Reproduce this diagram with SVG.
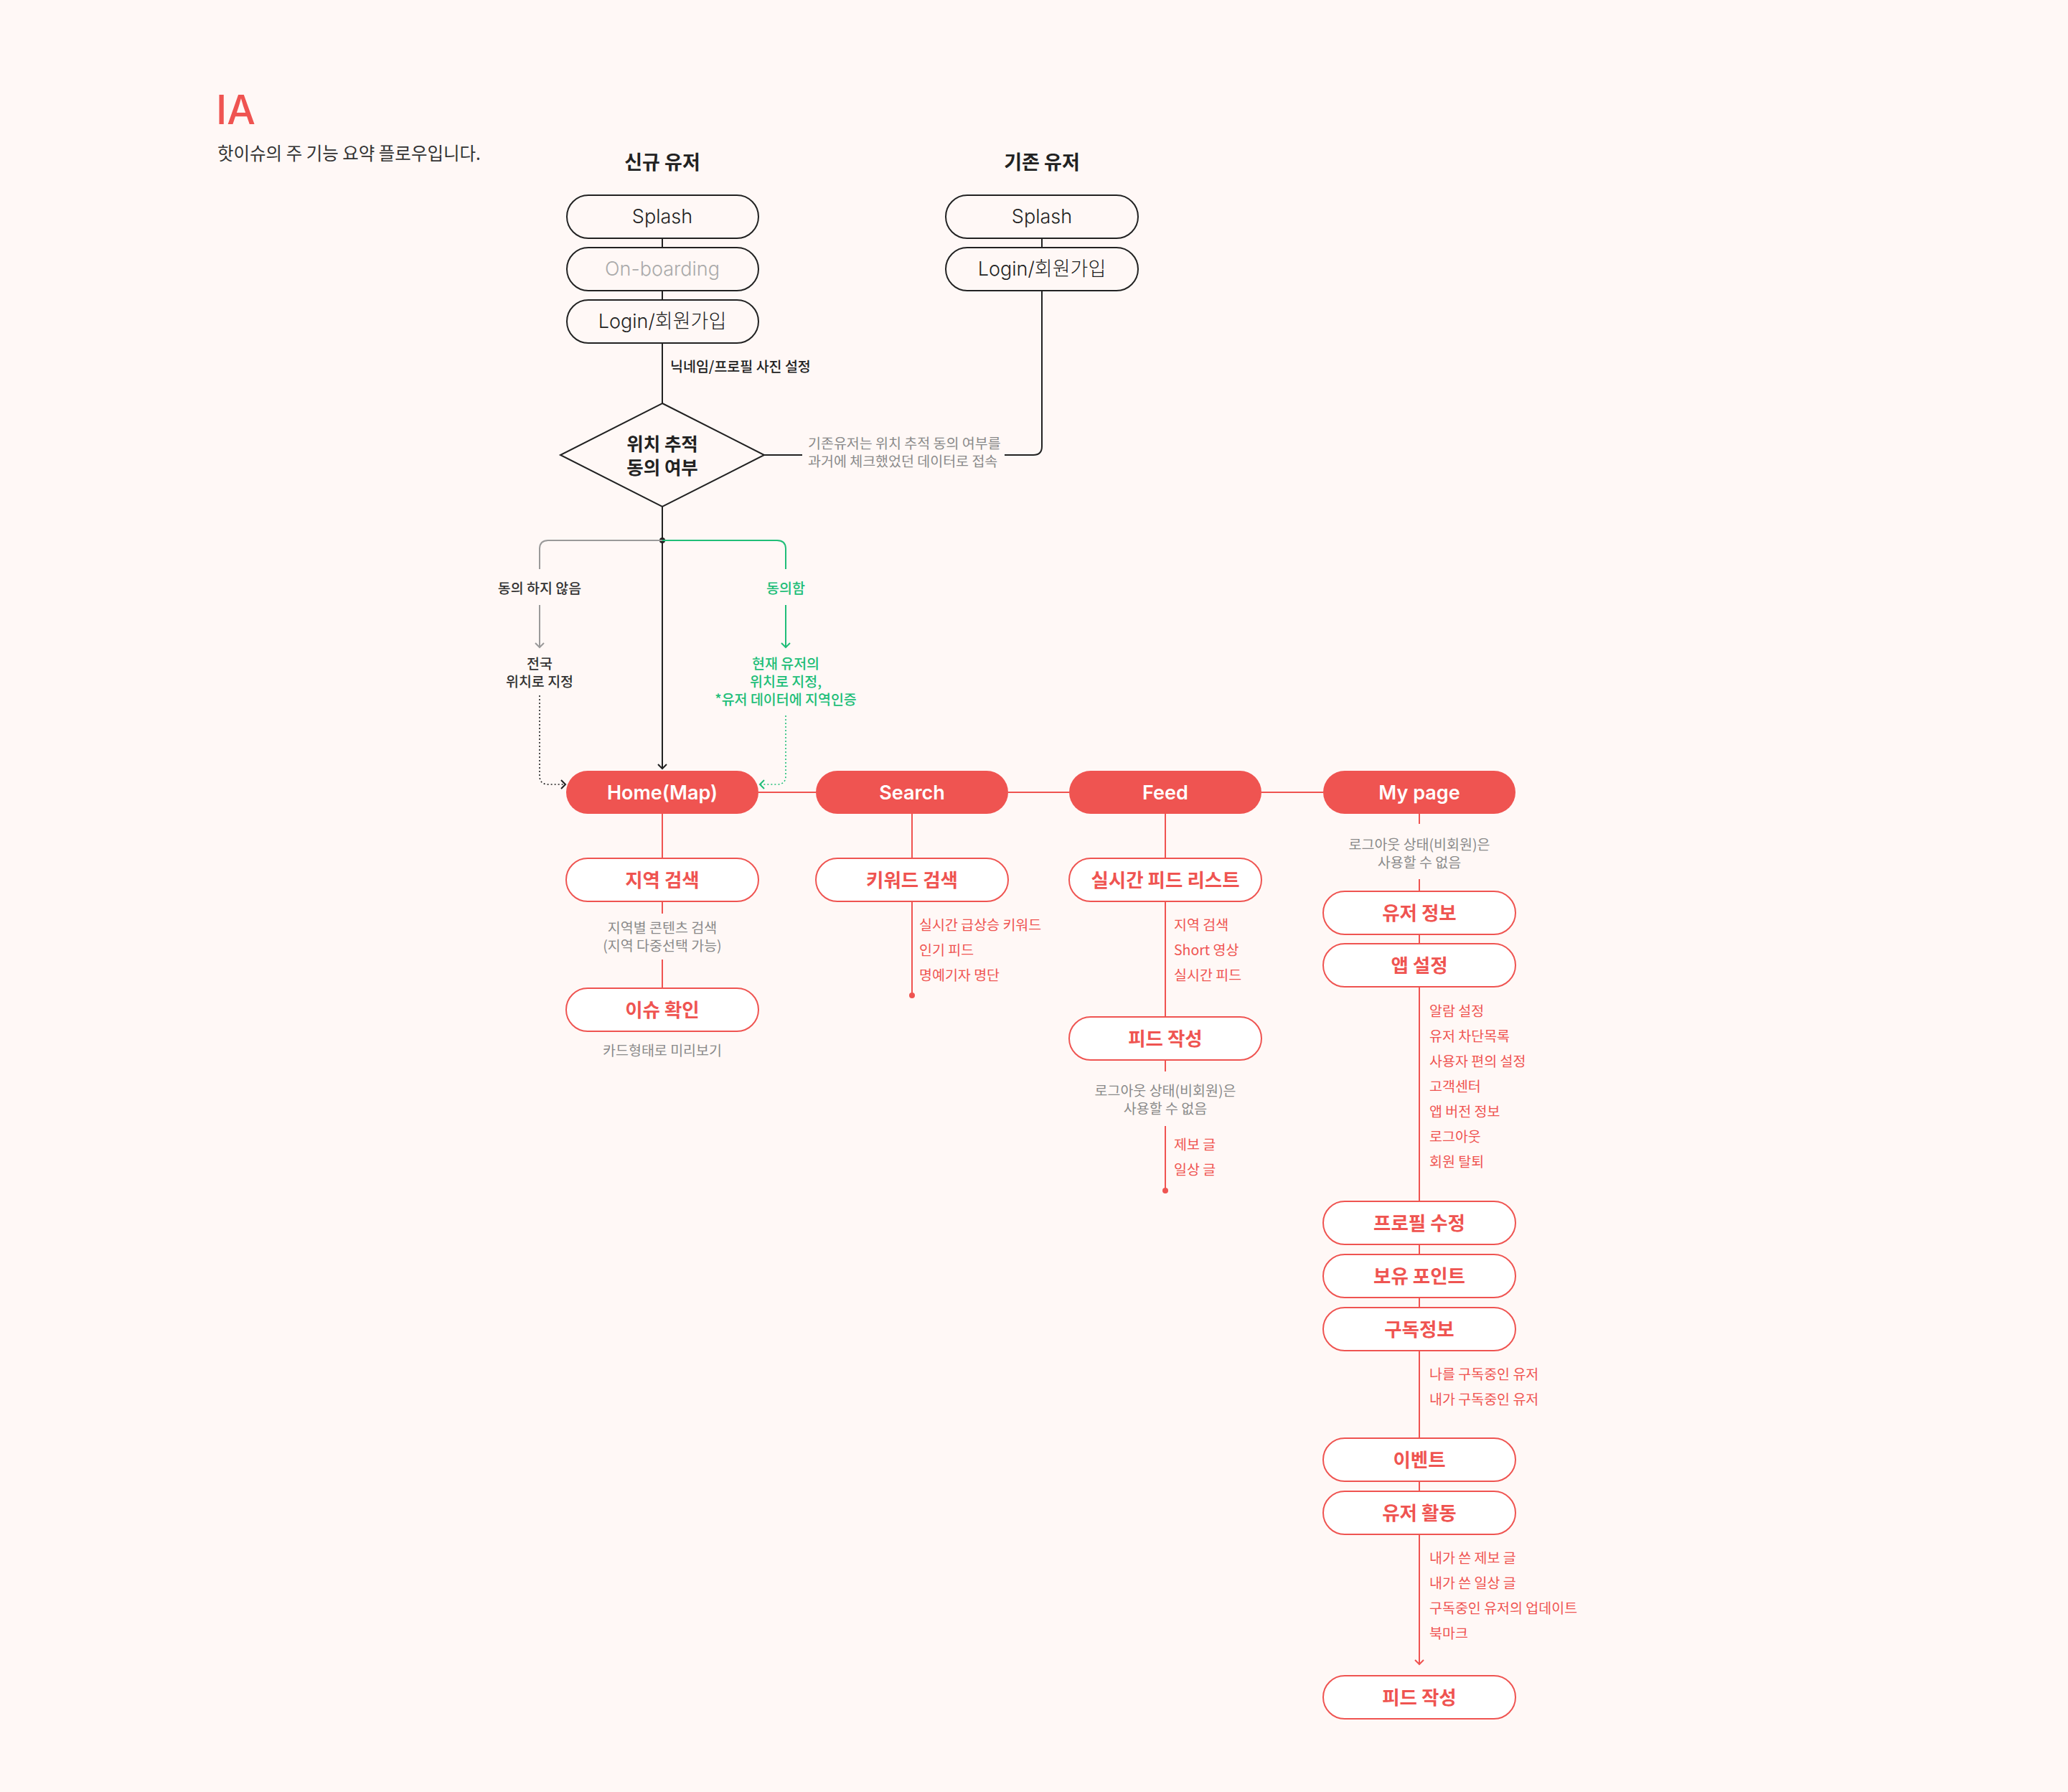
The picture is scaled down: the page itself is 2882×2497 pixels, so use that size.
<svg xmlns="http://www.w3.org/2000/svg" width="2882" height="2497" viewBox="0 0 2882 2497">
<style>
.ko{font-family:"Noto Sans CJK KR","Noto Sans",sans-serif}
.en{font-family:Inter,"Noto Sans CJK KR",sans-serif}
.mid{text-anchor:middle}
.dbox rect{fill:none;stroke:#222;stroke-width:2}
.dbox text{font-size:27px;font-weight:300;fill:#222}
.rbox rect{fill:#EF5451}
.rbox text{font-size:27px;font-weight:600;fill:#fff}
.sbox rect{fill:#fff;stroke:#EF5451;stroke-width:2}
.sbox text{font-size:26.5px;font-weight:700;fill:#EF5451}
.bk{stroke:#222;stroke-width:2;fill:none}
.rl{stroke:#EF5451;stroke-width:2;fill:none}
.gl{stroke:#9a9a9a;stroke-width:2;fill:none}
.gn{stroke:#20BE78;stroke-width:2;fill:none}
.dot{stroke-dasharray:2 3;stroke-width:1.6}
.note{font-size:19.5px;fill:#8a8a8a}
.list{font-size:19.5px;fill:#EF5451}
.lbl{font-size:19.5px;font-weight:500;fill:#222}
.glbl{font-size:19.5px;font-weight:500;fill:#20BE78}
.hd{font-size:27px;font-weight:700;fill:#222}
</style>
<rect x="0" y="0" width="2882" height="2497" fill="#FFF8F6"/>

<g id="title">
<text class="en" x="301" y="173" font-size="56" font-weight="500" fill="#EF5451">IA</text>
<text class="ko" x="303" y="223" font-size="24.5" fill="#333">핫이슈의 주 기능 요약 플로우입니다.</text>
</g>
<g id="header-new"><text class="ko mid hd" x="923" y="236">신규 유저</text></g>
<g id="header-existing"><text class="ko mid hd" x="1452" y="236">기존 유저</text></g>

<g id="connectors">
<path class="bk" d="M923 332V345M923 405V418M923 478V562M1452 332V345"/>
<path class="bk" d="M1452 405V622Q1452 634 1440 634H1400M1118 634H1065"/>
<path class="bk" d="M923 706V1071M917 1065L923 1071L929 1065"/>
<circle cx="923" cy="753" r="4" fill="#222"/>
<path class="gl" d="M923 753H764Q752 753 752 765V793M752 843V902M746 896L752 902L758 896"/>
<path class="bk dot" d="M752 969V1081Q752 1093 764 1093H788"/>
<path class="bk" stroke-width="1.6" d="M782 1087L788 1093L782 1099"/>
<path class="gn" d="M923 753H1083Q1095 753 1095 765V793M1095 843V902M1089 896L1095 902L1101 896"/>
<path class="gn dot" d="M1095 997V1081Q1095 1093 1083 1093H1059"/>
<path class="gn" stroke-width="1.6" d="M1065 1087L1059 1093L1065 1099"/>
<path class="rl" d="M1057 1104H1137M1405 1104H1490M1758 1104H1844"/>
<path class="rl" d="M923 1134V1196M923 1256V1273M923 1337V1377"/>
<path class="rl" d="M1271 1134V1196M1271 1256V1387"/>
<circle cx="1271" cy="1387" r="4" fill="#EF5451"/>
<path class="rl" d="M1624 1134V1196M1624 1256V1417M1624 1477V1493M1624 1569V1659"/>
<circle cx="1624" cy="1659" r="4" fill="#EF5451"/>
<path class="rl" d="M1978 1134V1148M1978 1225V1242M1978 1302V1315M1978 1375V1674M1978 1734V1748M1978 1808V1822M1978 1882V2004M1978 2064V2078M1978 2138V2319M1972 2313L1978 2319L1984 2313"/>
</g>

<g id="new-splash" class="dbox"><rect x="790" y="272" width="267" height="60" rx="30"/><text class="en mid" x="923" y="311">Splash</text></g>
<g id="new-onboarding" class="dbox"><rect x="790" y="345" width="267" height="60" rx="30"/><text class="en mid" x="923" y="384" style="fill:#aaa">On-boarding</text></g>
<g id="new-login" class="dbox"><rect x="790" y="418" width="267" height="60" rx="30"/><text class="en mid" x="923" y="457">Login/회원가입</text></g>
<g id="ex-splash" class="dbox"><rect x="1318" y="272" width="268" height="60" rx="30"/><text class="en mid" x="1452" y="311">Splash</text></g>
<g id="ex-login" class="dbox"><rect x="1318" y="345" width="268" height="60" rx="30"/><text class="en mid" x="1452" y="384">Login/회원가입</text></g>

<g id="label-nickname"><text class="ko lbl" x="934" y="518">닉네임/프로필 사진 설정</text></g>

<g id="decision">
<polygon points="923,562 1065,634 923,706 781,634" fill="none" stroke="#222" stroke-width="2"/>
<text class="ko mid" x="923" y="628" font-size="25.5" font-weight="700" fill="#222"><tspan x="923" y="628">위치 추적</tspan><tspan x="923" y="661">동의 여부</tspan></text>
</g>
<g id="note-existing">
<text class="ko note" x="1126" y="625"><tspan x="1126" y="625">기존유저는 위치 추적 동의 여부를</tspan><tspan x="1126" y="650">과거에 체크했었던 데이터로 접속</tspan></text>
</g>

<g id="branch-no">
<text class="ko mid lbl" x="752" y="827" style="fill:#333">동의 하지 않음</text>
<text class="ko mid lbl" x="752" y="932" style="fill:#333"><tspan x="752" y="932">전국</tspan><tspan x="752" y="957">위치로 지정</tspan></text>
</g>
<g id="branch-yes">
<text class="ko mid glbl" x="1095" y="827">동의함</text>
<text class="ko mid glbl" x="1095" y="932"><tspan x="1095" y="932">현재 유저의</tspan><tspan x="1095" y="957">위치로 지정,</tspan><tspan x="1095" y="982">*유저 데이터에 지역인증</tspan></text>
</g>

<g id="home" class="rbox"><rect x="789" y="1074" width="268" height="60" rx="30"/><text class="en mid" x="923" y="1114">Home(Map)</text></g>
<g id="search" class="rbox"><rect x="1137" y="1074" width="268" height="60" rx="30"/><text class="en mid" x="1271" y="1114">Search</text></g>
<g id="feed" class="rbox"><rect x="1490" y="1074" width="268" height="60" rx="30"/><text class="en mid" x="1624" y="1114">Feed</text></g>
<g id="mypage" class="rbox"><rect x="1844" y="1074" width="268" height="60" rx="30"/><text class="en mid" x="1978" y="1114">My page</text></g>

<g id="region-search" class="sbox"><rect x="789" y="1196" width="268" height="60" rx="30"/><text class="ko mid" x="923" y="1236">지역 검색</text></g>
<g id="note-region"><text class="ko mid note" x="923" y="1300"><tspan x="923" y="1300">지역별 콘텐츠 검색</tspan><tspan x="923" y="1325">(지역 다중선택 가능)</tspan></text></g>
<g id="issue-check" class="sbox"><rect x="789" y="1377" width="268" height="60" rx="30"/><text class="ko mid" x="923" y="1417">이슈 확인</text></g>
<g id="note-card"><text class="ko mid note" x="923" y="1471">카드형태로 미리보기</text></g>

<g id="keyword-search" class="sbox"><rect x="1137" y="1196" width="268" height="60" rx="30"/><text class="ko mid" x="1271" y="1236">키워드 검색</text></g>
<g id="list-keyword"><text class="ko list" x="1281" y="1296"><tspan x="1281" y="1296">실시간 급상승 키워드</tspan><tspan x="1281" y="1331">인기 피드</tspan><tspan x="1281" y="1366">명예기자 명단</tspan></text></g>

<g id="feed-list" class="sbox"><rect x="1490" y="1196" width="268" height="60" rx="30"/><text class="ko mid" x="1624" y="1236">실시간 피드 리스트</text></g>
<g id="list-feed"><text class="ko list" x="1636" y="1296"><tspan x="1636" y="1296">지역 검색</tspan><tspan x="1636" y="1331">Short 영상</tspan><tspan x="1636" y="1366">실시간 피드</tspan></text></g>
<g id="feed-write" class="sbox"><rect x="1490" y="1417" width="268" height="60" rx="30"/><text class="ko mid" x="1624" y="1457">피드 작성</text></g>
<g id="note-feed-write"><text class="ko mid note" x="1624" y="1527"><tspan x="1624" y="1527">로그아웃 상태(비회원)은</tspan><tspan x="1624" y="1552">사용할 수 없음</tspan></text></g>
<g id="list-write"><text class="ko list" x="1636" y="1602"><tspan x="1636" y="1602">제보 글</tspan><tspan x="1636" y="1637">일상 글</tspan></text></g>

<g id="note-mypage"><text class="ko mid note" x="1978" y="1184"><tspan x="1978" y="1184">로그아웃 상태(비회원)은</tspan><tspan x="1978" y="1209">사용할 수 없음</tspan></text></g>
<g id="user-info" class="sbox"><rect x="1844" y="1242" width="268" height="60" rx="30"/><text class="ko mid" x="1978" y="1282">유저 정보</text></g>
<g id="app-settings" class="sbox"><rect x="1844" y="1315" width="268" height="60" rx="30"/><text class="ko mid" x="1978" y="1355">앱 설정</text></g>
<g id="list-settings">
<text class="ko list" x="1992" y="1416"><tspan x="1992" y="1416">알람 설정</tspan><tspan x="1992" y="1451">유저 차단목록</tspan><tspan x="1992" y="1486">사용자 편의 설정</tspan><tspan x="1992" y="1521">고객센터</tspan><tspan x="1992" y="1556">앱 버전 정보</tspan><tspan x="1992" y="1591">로그아웃</tspan><tspan x="1992" y="1626">회원 탈퇴</tspan></text>
</g>
<g id="profile-edit" class="sbox"><rect x="1844" y="1674" width="268" height="60" rx="30"/><text class="ko mid" x="1978" y="1714">프로필 수정</text></g>
<g id="points" class="sbox"><rect x="1844" y="1748" width="268" height="60" rx="30"/><text class="ko mid" x="1978" y="1788">보유 포인트</text></g>
<g id="subscription" class="sbox"><rect x="1844" y="1822" width="268" height="60" rx="30"/><text class="ko mid" x="1978" y="1862">구독정보</text></g>
<g id="list-subscription"><text class="ko list" x="1992" y="1922"><tspan x="1992" y="1922">나를 구독중인 유저</tspan><tspan x="1992" y="1957">내가 구독중인 유저</tspan></text></g>
<g id="event" class="sbox"><rect x="1844" y="2004" width="268" height="60" rx="30"/><text class="ko mid" x="1978" y="2044">이벤트</text></g>
<g id="user-activity" class="sbox"><rect x="1844" y="2078" width="268" height="60" rx="30"/><text class="ko mid" x="1978" y="2118">유저 활동</text></g>
<g id="list-activity">
<text class="ko list" x="1992" y="2178"><tspan x="1992" y="2178">내가 쓴 제보 글</tspan><tspan x="1992" y="2213">내가 쓴 일상 글</tspan><tspan x="1992" y="2248">구독중인 유저의 업데이트</tspan><tspan x="1992" y="2283">북마크</tspan></text>
</g>
<g id="mypage-feed-write" class="sbox"><rect x="1844" y="2335" width="268" height="60" rx="30"/><text class="ko mid" x="1978" y="2375">피드 작성</text></g>
</svg>
